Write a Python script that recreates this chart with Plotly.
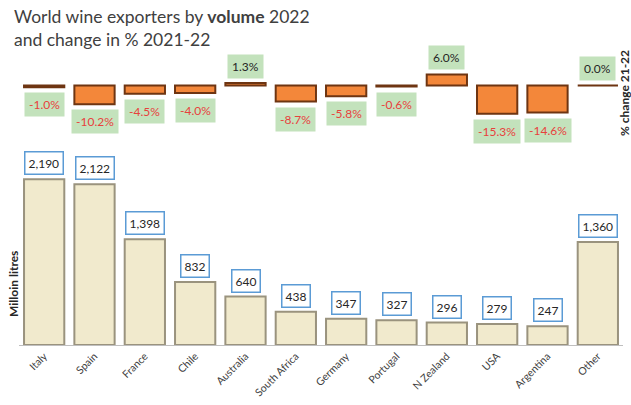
import plotly.graph_objects as go

countries = ["Italy", "Spain", "France", "Chile", "Australia", "South Africa",
             "Germany", "Portugal", "N Zealand", "USA", "Argentina", "Other"]
volume = [2190, 2122, 1398, 832, 640, 438, 347, 327, 296, 279, 247, 1360]
change = [-1.0, -10.2, -4.5, -4.0, 1.3, -8.7, -5.8, -0.6, 6.0, -15.3, -14.6, 0.0]

FONT = "Lato"
W, H = 631, 405
ML, MR = 19, 8

def py(pix):
    return (H - pix) / H

def px(pix):
    return (pix - ML) / (W - ML - MR)

fig = go.Figure()

fig.add_trace(go.Bar(
    x=countries, y=volume, xaxis="x", yaxis="y",
    marker=dict(color="#F1EACD", line=dict(color="#9A937E", width=2)),
    hoverinfo="x+y", showlegend=False,
))

fig.add_trace(go.Bar(
    x=countries, y=change, xaxis="x2", yaxis="y2",
    marker=dict(color="#F3873A", line=dict(color="#6E3512", width=2)),
    hoverinfo="x+y", showlegend=False,
))

annotations = []
for c, v in zip(countries, volume):
    annotations.append(dict(
        x=c, y=v, xref="x", yref="y", text=f"{v:,}", showarrow=False,
        yanchor="bottom", yshift=4,
        font=dict(family=FONT, size=12, color="#262626"),
        bgcolor="white", bordercolor="#5B9BD5", borderwidth=1.5, borderpad=3,
    ))

for c, v in zip(countries, change):
    neg = v < 0
    annotations.append(dict(
        x=c, y=v, xref="x2", yref="y2", text=f"{v:.1f}%", showarrow=False,
        yanchor="top" if neg else "bottom", yshift=-5 if neg else 4,
        font=dict(family=FONT, size=12, color="#E8413C" if neg else "#262626"),
        bgcolor="#C3E2BC", borderpad=4,
    ))

annotations.append(dict(
    x=px(12), y=py(4), xref="paper", yref="paper", xanchor="left", yanchor="top",
    align="left", showarrow=False,
    text="World wine exporters by <b>volume</b> 2022<br>and change in % 2021-22",
    font=dict(family=FONT, size=17.5, color="#404040"),
))
annotations.append(dict(
    x=px(13), y=py(284), xref="paper", yref="paper", showarrow=False,
    xanchor="center", yanchor="middle",
    text="<b>Milloin litres</b>", textangle=-90,
    font=dict(family=FONT, size=12, color="#262626"),
))
annotations.append(dict(
    x=px(624), y=py(93), xref="paper", yref="paper", showarrow=False,
    xanchor="center", yanchor="middle",
    text="<b>% change 21-22</b>", textangle=-90,
    font=dict(family=FONT, size=12, color="#262626"),
))

fig.update_layout(
    width=W, height=H,
    margin=dict(l=ML, r=MR, t=0, b=0),
    paper_bgcolor="white", plot_bgcolor="white",
    bargap=0.2,
    xaxis=dict(domain=[0, 1], anchor="y", showline=True, linecolor="#BFBFBF",
               linewidth=1, ticks="", tickangle=-45, automargin=False,
               tickfont=dict(family=FONT, size=10.5, color="#404040"),
               showgrid=False, fixedrange=True),
    yaxis=dict(domain=[py(345), py(150)], range=[0, 2576], visible=False,
               showgrid=False, zeroline=False, fixedrange=True),
    xaxis2=dict(domain=[0, 1], anchor="y2", matches="x", visible=False,
                showgrid=False),
    yaxis2=dict(domain=[py(122.5), py(67)], range=[-20, 10], visible=False,
                showgrid=False, zeroline=False, fixedrange=True),
    annotations=annotations,
    font=dict(family=FONT),
)

fig.write_html("out.html")
